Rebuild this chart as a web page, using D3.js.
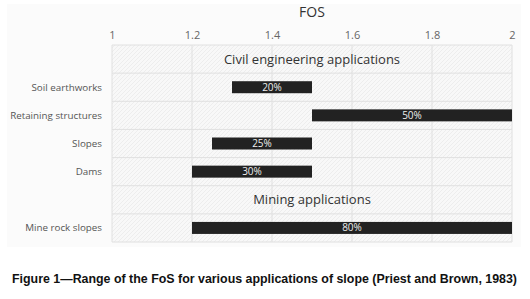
<!DOCTYPE html>
<html>
<head>
<meta charset="utf-8">
<script src="https://cdn.jsdelivr.net/npm/d3@7"></script>
<style>
  body { margin: 0; background: #fff; }
  svg text { font-family: "Open Sans", "DejaVu Sans", sans-serif; }
</style>
</head>
<body>
<div id="chart"></div>
<script>
// Rows top to bottom; section rows carry no bar
const rows = ["civil", "Soil earthworks", "Retaining structures", "Slopes", "Dams", "mining", "Mine rock slopes"];
const sections = [
  { row: "civil", text: "Civil engineering applications" },
  { row: "mining", text: "Mining applications" }
];
const barRows = ["Soil earthworks", "Retaining structures", "Slopes", "Dams", "Mine rock slopes"];
const fosMin = [1.3, 1.5, 1.25, 1.2, 1.2];
const fosMax = [1.5, 2.0, 1.5, 1.5, 2.0];
const pctLabels = ["20%", "50%", "25%", "30%", "80%"];
const tickValues = [1, 1.2, 1.4, 1.6, 1.8, 2];

const width = 530, height = 299;
const margin = { top: 45, left: 112, right: 18, bottom: 57 };

const svg = d3.select("#chart").append("svg")
  .attr("width", width).attr("height", height);

// hatch pattern for plot background
const defs = svg.append("defs");
const pat = defs.append("pattern")
  .attr("id", "hatch").attr("patternUnits", "userSpaceOnUse")
  .attr("width", 4).attr("height", 4);
pat.append("rect").attr("width", 4).attr("height", 4).attr("fill", "#f8f8f8");
pat.append("path").attr("d", "M0,4 L4,0").attr("stroke", "#ededed").attr("stroke-width", 1);

// outer chart panel
svg.append("rect")
  .attr("x", 7).attr("y", 4).attr("width", 514).attr("height", 243)
  .attr("fill", "#fbfbfb");

const x = d3.scaleLinear().domain([1, 2]).range([margin.left, width - margin.right]);
const y = d3.scaleBand().domain(rows).range([margin.top, 242]);

svg.append("rect")
  .attr("x", x(1)).attr("y", y.range()[0])
  .attr("width", x(2) - x(1)).attr("height", y.range()[1] - y.range()[0])
  .attr("fill", "url(#hatch)");

// vertical gridlines
svg.append("g").selectAll("line").data(tickValues).join("line")
  .attr("x1", d => x(d)).attr("x2", d => x(d))
  .attr("y1", y.range()[0]).attr("y2", y.range()[1])
  .attr("stroke", "#e0e0e0").attr("stroke-width", 1);

// horizontal gridlines at row boundaries
const bounds = rows.map(r => y(r)).concat([y.range()[1]]);
svg.append("g").selectAll("line").data(bounds).join("line")
  .attr("x1", x(1)).attr("x2", x(2))
  .attr("y1", d => d).attr("y2", d => d)
  .attr("stroke", "#e0e0e0").attr("stroke-width", 1);

// top axis
const axis = svg.append("g")
  .attr("transform", `translate(0,${margin.top - 6})`)
  .call(d3.axisTop(x).tickValues(tickValues).tickFormat(d3.format("~g")).tickSize(0).tickPadding(0));
axis.select(".domain").remove();
axis.selectAll("text").attr("font-size", 11).attr("fill", "#666")
  .style("font-family", '"Open Sans", "DejaVu Sans", sans-serif');

svg.append("text")
  .attr("x", (x(1) + x(2)) / 2).attr("y", 17)
  .attr("text-anchor", "middle").attr("font-size", 14).attr("fill", "#333")
  .text("FOS");

// category labels
svg.append("g").selectAll("text").data(barRows).join("text")
  .attr("x", x(1) - 10).attr("y", d => y(d) + y.bandwidth() / 2)
  .attr("dy", "0.35em").attr("text-anchor", "end")
  .attr("font-size", 9.8).attr("fill", "#555")
  .text(d => d);

// section headers
svg.append("g").selectAll("text").data(sections).join("text")
  .attr("x", (x(1) + x(2)) / 2).attr("y", d => y(d.row) + y.bandwidth() / 2)
  .attr("dy", "0.35em").attr("text-anchor", "middle")
  .attr("font-size", 13).attr("fill", "#333")
  .text(d => d.text);

// bars
const barH = 12;
const bars = svg.append("g").selectAll("g").data(barRows).join("g");
bars.append("rect")
  .attr("x", (d, i) => x(fosMin[i]))
  .attr("y", d => y(d) + y.bandwidth() / 2 - barH / 2)
  .attr("width", (d, i) => x(fosMax[i]) - x(fosMin[i]))
  .attr("height", barH)
  .attr("fill", "#222");
bars.append("text")
  .attr("x", (d, i) => (x(fosMin[i]) + x(fosMax[i])) / 2)
  .attr("y", d => y(d) + y.bandwidth() / 2)
  .attr("dy", "0.35em").attr("text-anchor", "middle")
  .attr("font-size", 10).attr("fill", "#eee")
  .text((d, i) => pctLabels[i]);

// caption
svg.append("text")
  .attr("x", 12).attr("y", 283)
  .attr("font-size", 12).attr("font-weight", "bold").attr("fill", "#111")
  .attr("textLength", 505).attr("lengthAdjust", "spacingAndGlyphs")
  .style("font-family", '"Liberation Sans", Arial, sans-serif')
  .text("Figure 1\u2014Range of the FoS for various applications of slope (Priest and Brown, 1983)");
</script>
</body>
</html>
